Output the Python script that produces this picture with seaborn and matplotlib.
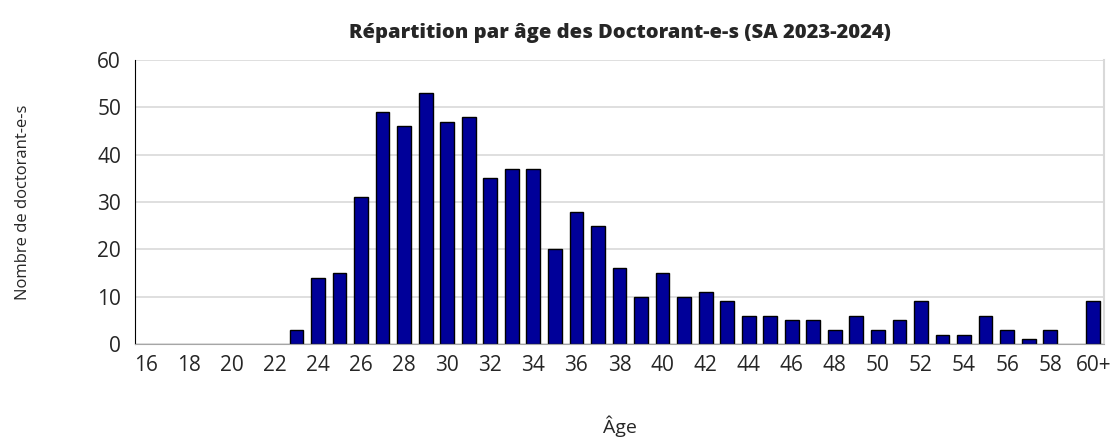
import matplotlib
matplotlib.use("Agg")
import matplotlib.pyplot as plt
import seaborn as sns
import pandas as pd
import numpy as np

# Données
ages = [str(a) for a in range(16, 60)] + ["60+"]
counts = [0, 0, 0, 0, 0, 0, 0, 3, 14, 15, 31, 49, 46, 53, 47, 48, 35, 37, 37, 20,
          28, 25, 16, 10, 15, 10, 11, 9, 6, 6, 5, 5, 3, 6, 3, 5, 9, 2, 2, 6,
          3, 1, 3, 0, 9]
tick_labels = ages[::2]

df = pd.DataFrame({"Âge": ages, "Nombre": counts})

sns.set_style("white")
plt.rcParams["font.family"] = ["Open Sans", "DejaVu Sans"]

fig = plt.figure(figsize=(11.19, 4.42), dpi=100)
ax = fig.add_axes([0.1206, 0.2217, 0.866, 0.6423])

sns.barplot(data=df, x="Âge", y="Nombre", order=ages, color="#000099",
            width=0.64, edgecolor="black", linewidth=1.0, saturation=1, ax=ax)

# pas de contour pour les barres vides
for p in ax.patches:
    if p.get_height() == 0:
        p.set_linewidth(0)

ax.set_ylim(0, 60)
ax.set_xlim(-0.5, len(ages) - 0.5)
ax.set_yticks(range(0, 61, 10))
ax.yaxis.grid(True, color="#d9d9d9", linewidth=1.2)
ax.set_axisbelow(True)

# ticks aux limites des catégories, étiquettes une sur deux
ax.set_xticks(np.arange(-0.5, len(ages), 1))
ax.set_xticklabels([])
ax.set_xticks(np.arange(0, len(ages), 2), minor=True)
ax.set_xticklabels(tick_labels, minor=True, fontsize=15)
ax.tick_params(axis="x", which="major", length=6, color="#a6a6a6", width=1)
ax.tick_params(axis="x", which="minor", length=0, pad=8)
ax.tick_params(axis="y", length=6, color="black", width=1, labelsize=15, pad=4)

ax.spines["top"].set_visible(False)
ax.spines["left"].set_color("black")
ax.spines["bottom"].set_color("#a6a6a6")
ax.spines["right"].set_color("#d9d9d9")
ax.spines["right"].set_linewidth(1.5)

ax.set_title("Répartition par âge des Doctorant-e-s (SA 2023-2024)",
             fontsize=14.5, fontweight="heavy", pad=16)
ax.set_xlabel("Âge", fontsize=14, labelpad=28)
ax.set_ylabel("Nombre de doctorant-e-s", fontsize=12, labelpad=48)

fig.savefig("out.png", dpi=100)
